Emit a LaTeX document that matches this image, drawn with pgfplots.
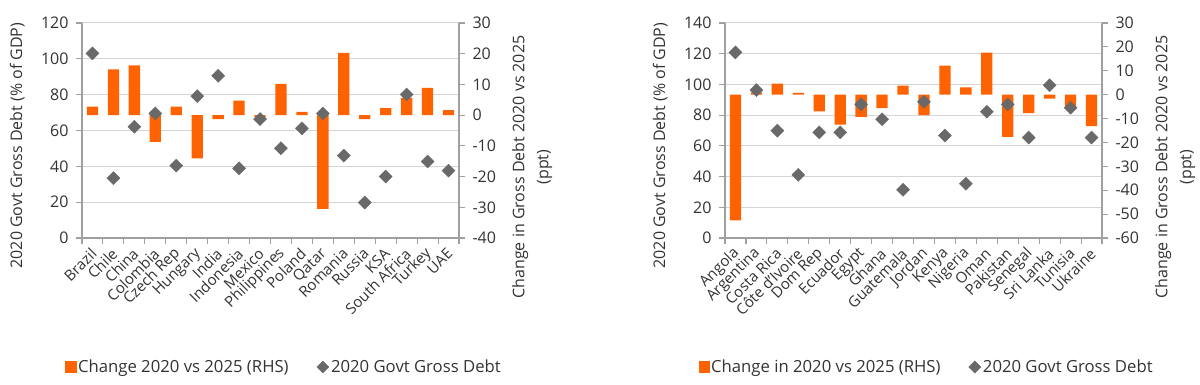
\documentclass[border=0pt]{standalone}
\usepackage{pgfplots}
\pgfplotsset{compat=1.18}
\usepackage{fontspec}
\setmainfont{Open Sans}
\definecolor{ingorange}{HTML}{FF6200}
\definecolor{diagray}{HTML}{696969}
\definecolor{axisgray}{HTML}{A0A0A0}
\definecolor{gridgray}{HTML}{D4D4D4}
\definecolor{textgray}{HTML}{333333}

\pgfplotstableread{
idx debt change
0 103.0 2.8
1 33.4 14.9
2 62.1 16.2
3 69.5 -8.7
4 40.4 2.8
5 79.2 -14.1
6 90.5 -1.3
7 38.9 4.7
8 66.4 -0.6
9 50.1 10.2
10 61.2 1.1
11 69.5 -30.5
12 46.0 20.3
13 19.8 -1.3
14 34.3 2.3
15 80.1 5.6
16 42.7 8.9
17 37.6 1.6
}\lefttable

\pgfplotstableread{
idx debt change
0 120.8 -52.6
1 96.3 1.0
2 69.9 4.6
3 41.1 0.7
4 68.8 -7.0
5 68.8 -12.5
6 87.0 -9.3
7 77.3 -5.6
8 31.4 3.8
9 88.7 -8.6
10 66.7 12.2
11 35.3 3.1
12 82.2 17.6
13 87.0 -17.7
14 65.4 -7.7
15 99.5 -1.7
16 84.8 -4.9
17 65.4 -13.2
}\righttable

\pgfplotsset{
  ingbase/.style={
    scale only axis, width=377pt, height=215pt,
    xmin=-0.5, xmax=17.5, enlargelimits=false,
    font=\fontsize{16}{24}\selectfont,
    /pgf/number format/assume math mode=true,
    axis line style={draw=axisgray, line width=1.3pt},
    tick style={draw=axisgray, line width=1.1pt},
    tick align=outside, major tick length=6pt, minor tick length=6pt,
    every tick label/.append style={text=textgray},
    label style={text=textgray},
  },
  gridaxis/.style={
    ingbase,
    axis y line*=left, axis x line*=bottom,
    ymin=0, ymajorgrids, grid style={draw=gridgray, line width=1pt},
    xtick={0,...,17}, major x tick style={draw=none},
    minor xtick={-0.5,0.5,...,17.5},
    xticklabel style={rotate=45, anchor=east, inner sep=1pt, yshift=-6pt, xshift=-3pt,
      font=\fontsize{15}{18}\selectfont},
    yticklabel style={xshift=-4pt},
    ylabel style={anchor=center, at={(rel axis cs:-0.172,0.43)}},
  },
  baraxis/.style={
    ingbase,
    axis y line*=right, axis x line=none,
    yticklabel style={xshift=4pt},
    ylabel style={align=center, anchor=center, at={(rel axis cs:1.194,0.33)}},
  },
  diaaxis/.style={
    ingbase, hide axis, ymin=0,
    legend columns=2,
    legend style={draw=none, fill=none, anchor=center, at={(rel axis cs:0.535,-0.60)},
      text=textgray, font=\fontsize{16.7}{20}\selectfont,
      /tikz/every even column/.append style={column sep=26pt}},
  },
}

\begin{document}
\begin{tikzpicture}
\useasboundingbox (0,0) rectangle (1200pt,385pt);

% ---------------- Left chart ----------------
\begin{axis}[gridaxis, at={(82pt,147pt)}, anchor=south west,
  ymax=120, ytick={0,20,...,120},
  xticklabels={Brazil,Chile,China,Colombia,Czech Rep,Hungary,India,Indonesia,Mexico,Philippines,Poland,Qatar,Romania,Russia,KSA,South Africa,Turkey,UAE},
  ylabel={2020 Govt Gross Debt (\% of GDP)}]
\end{axis}
\begin{axis}[baraxis, at={(82pt,147pt)}, anchor=south west,
  ymin=-40, ymax=30, ytick={-40,-30,...,30},
  ylabel={Change in Gross Debt 2020 vs 2025\\(ppt)}]
\addplot[ybar, bar width=11.3pt, fill=ingorange, draw=none] table[x=idx, y=change] {\lefttable};
\end{axis}
\begin{axis}[diaaxis, at={(82pt,147pt)}, anchor=south west, ymax=120]
\addlegendimage{legend image code/.code={\fill[ingorange] (0pt,-5.5pt) rectangle (11pt,5.5pt);}}
\addlegendentry{Change 2020 vs 2025 (RHS)}
\addplot[only marks, mark=square*, mark size=4.6pt, mark options={rotate=45, fill=diagray, draw=diagray},
  legend image code/.code={\fill[diagray] (6pt,6pt) -- (12pt,0pt) -- (6pt,-6pt) -- (0pt,0pt) -- cycle;}]
  table[x=idx, y=debt] {\lefttable};
\addlegendentry{2020 Govt Gross Debt}
\end{axis}

% ---------------- Right chart ----------------
\begin{axis}[gridaxis, at={(725pt,147pt)}, anchor=south west,
  ymax=140, ytick={0,20,...,140},
  xticklabels={Angola,Argentina,Costa Rica,Côte d'Ivoire,Dom Rep,Ecuador,Egypt,Ghana,Guatemala,Jordan,Kenya,Nigeria,Oman,Pakistan,Senegal,Sri Lanka,Tunisia,Ukraine},
  ylabel={2020 Govt Gross Debt (\% of GDP)}]
\end{axis}
\begin{axis}[baraxis, at={(725pt,147pt)}, anchor=south west,
  ymin=-60, ymax=30, ytick={-60,-50,...,30},
  ylabel={Change in Gross Debt 2020 vs 2025\\(ppt)}]
\addplot[ybar, bar width=11.3pt, fill=ingorange, draw=none] table[x=idx, y=change] {\righttable};
\end{axis}
\begin{axis}[diaaxis, at={(725pt,147pt)}, anchor=south west, ymax=140]
\addlegendimage{legend image code/.code={\fill[ingorange] (0pt,-5.5pt) rectangle (10pt,5.5pt);}}
\addlegendentry{Change in 2020 vs 2025 (RHS)}
\addplot[only marks, mark=square*, mark size=4.6pt, mark options={rotate=45, fill=diagray, draw=diagray},
  legend image code/.code={\fill[diagray] (6pt,6pt) -- (12pt,0pt) -- (6pt,-6pt) -- (0pt,0pt) -- cycle;}]
  table[x=idx, y=debt] {\righttable};
\addlegendentry{2020 Govt Gross Debt}
\end{axis}
\end{tikzpicture}
\end{document}
